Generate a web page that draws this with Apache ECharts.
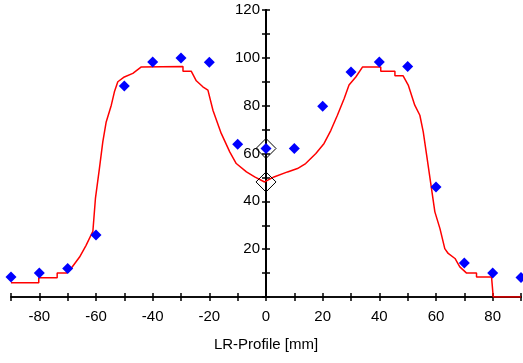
<!DOCTYPE html>
<html>
<head>
<meta charset="utf-8">
<script src="https://cdn.jsdelivr.net/npm/echarts@6/dist/echarts.min.js"></script>
<style>
html,body{margin:0;padding:0;background:#fff;}
#c{width:523px;height:363px;}
</style>
</head>
<body>
<div id="c"></div>
<script>
// measured points (blue diamonds)
const pointX = [-90, -80, -70, -60, -50, -40, -30, -20, -10, 0, 10, 20, 30, 40, 50, 60, 70, 80, 90];
const pointY = [8.4, 10.0, 11.9, 25.9, 88.2, 98.3, 99.9, 98.2, 63.9, 62.1, 62.1, 79.8, 94.1, 98.3, 96.4, 46.0, 14.2, 10.0, 8.2];

// calculated profile (red line)
const profileX = [-90, -80.2, -80.2, -73.7, -73.7, -70.5, -68.8, -65.8, -63.5, -61.1, -60.2, -58.8, -57.6, -56.4, -54.6, -53.5, -52.3, -50, -47, -44, -43.5, -29.3, -29.3, -26.4, -24.6, -22.3, -20.5, -18.7, -15.8, -12.8, -10.5, -6.9, -4.0, -0.5, 0, 2.8, 7.6, 11.1, 14.0, 17.6, 20.5, 22.9, 25.2, 27.6, 29.3, 31.7, 34.1, 40.5, 40.5, 45.5, 45.5, 48.4, 50.2, 52.5, 54.3, 55.5, 56.7, 58.4, 59.6, 61.4, 63.1, 64.3, 66.7, 68.4, 70.8, 74.3, 74.3, 79.6, 80.2, 90];
const profileY = [6.0, 6.0, 8.1, 8.1, 10.0, 10.0, 11.9, 16.7, 21.6, 27.5, 41.2, 53.7, 64.9, 73.2, 80.2, 85.8, 90.0, 92.0, 93.5, 96.2, 96.4, 96.4, 94.4, 94.4, 90.4, 87.9, 86.5, 78.0, 68.4, 60.7, 55.8, 52.3, 50.2, 48.1, 48.1, 50.2, 52.3, 53.7, 55.8, 60.0, 64.2, 69.7, 76.0, 83.0, 88.6, 92.0, 96.2, 96.2, 94.4, 94.4, 92.5, 92.5, 88.6, 80.2, 76.0, 69.0, 59.3, 45.4, 35.6, 28.6, 20.2, 18.2, 16.1, 12.6, 10.0, 10.0, 8.4, 8.4, 0, 0];

// hollow markers on the central axis
const markerX = [0, 0];
const markerY = [62.1, 48.1];

const xName = 'LR-Profile [mm]';

const font = 'Liberation Sans';
const zip = (a, b) => a.map((v, i) => [v, b[i]]);

const chart = echarts.init(document.getElementById('c'), null, {renderer: 'canvas'});

const xBase = {
  type: 'value', min: -90, max: 90, interval: 10,
  splitLine: {show: false},
  axisLine: {onZero: false, lineStyle: {color: '#000', width: 1.5}}
};
// the vertical axis sits at x = 0: plot width 510 px for 180 units -> 0 is 255 px right of the left edge
const yOffset = -255;
const yBase = {
  type: 'value', min: 0, max: 120, interval: 10,
  position: 'left', offset: yOffset,
  splitLine: {show: false},
  axisLine: {onZero: false, lineStyle: {color: '#000', width: 2}}
};

chart.setOption({
  animation: false,
  backgroundColor: '#fff',
  grid: {left: 11, right: 2, top: 10, bottom: 66, outerBoundsMode: 'none', containLabel: false},
  xAxis: [
    Object.assign({}, xBase, {
      name: xName, nameLocation: 'middle', nameGap: 40,
      nameTextStyle: {fontFamily: font, fontSize: 15, color: '#000'},
      axisTick: {show: true, inside: false, length: 4, lineStyle: {color: '#000', width: 1.5}},
      axisLabel: {
        fontFamily: font, fontSize: 15, color: '#000', margin: 12,
        formatter: v => (v % 20 === 0 && Math.abs(v) < 90) ? String(v) : ''
      }
    }),
    Object.assign({}, xBase, {
      position: 'bottom',
      axisTick: {show: true, inside: true, length: 4, lineStyle: {color: '#000', width: 1.5}},
      axisLabel: {show: false}
    })
  ],
  yAxis: [
    Object.assign({}, yBase, {
      axisTick: {show: true, inside: false, length: 4, lineStyle: {color: '#000', width: 1.5}},
      axisLabel: {
        fontFamily: font, fontSize: 15, color: '#000', margin: 6,
        formatter: v => (v > 0 && v % 20 === 0) ? String(v) : ''
      }
    }),
    Object.assign({}, yBase, {
      axisTick: {show: true, inside: true, length: 4, lineStyle: {color: '#000', width: 1.5}},
      axisLabel: {show: false}
    })
  ],
  series: [
    {
      type: 'line', xAxisIndex: 0, yAxisIndex: 0,
      data: zip(profileX, profileY),
      showSymbol: false, symbol: 'none',
      lineStyle: {color: '#ff0000', width: 1.5},
      z: 3
    },
    {
      type: 'scatter', xAxisIndex: 0, yAxisIndex: 0,
      data: zip(pointX, pointY),
      symbol: 'diamond', symbolSize: 11,
      itemStyle: {color: '#0000ff', opacity: 1},
      z: 4
    },
    {
      type: 'scatter', xAxisIndex: 0, yAxisIndex: 0,
      data: zip(markerX, markerY),
      symbol: 'diamond', symbolSize: 20,
      itemStyle: {color: 'rgba(0,0,0,0)', borderColor: '#000', borderWidth: 1, opacity: 1},
      z: 5
    }
  ]
});
</script>
</body>
</html>
